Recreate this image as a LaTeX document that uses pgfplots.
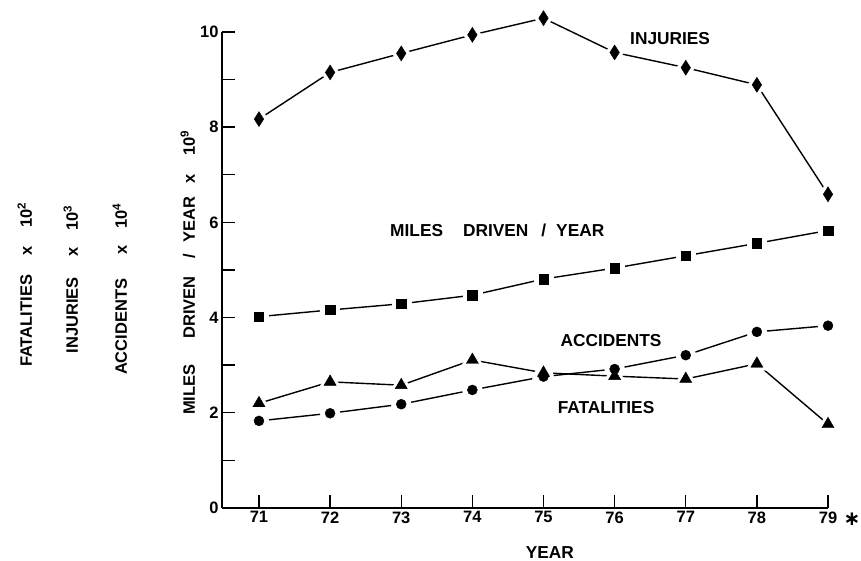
\documentclass[border=0pt]{standalone}
\usepackage{fontspec}
\setmainfont{Liberation Sans}
\newfontfamily\djv{DejaVu Sans}
\usepackage{pgfplots}
\pgfplotsset{compat=1.18}
\usepackage{pgfplotstable}

\pgfplotstableread{
yr inj miles acc fat
71 8.17 4.02 1.83 2.20
72 9.15 4.16 1.99 2.65
73 9.55 4.29 2.18 2.58
74 9.94 4.47 2.48 3.11
75 10.29 4.81 2.76 2.84
76 9.57 5.04 2.92 2.77
77 9.25 5.30 3.21 2.71
78 8.89 5.56 3.70 3.03
79 6.59 5.83 3.83 1.76
}\data

\newcommand{\fs}{\fontsize{17.3}{20}\selectfont\bfseries}
\newcommand{\fsr}{\fontsize{16.5}{20}\selectfont\bfseries}

\begin{document}
\begin{tikzpicture}
\begin{axis}[
  scale only axis, width=606pt, height=476pt,
  xmin=70.48, xmax=79, ymin=0, ymax=10,
  axis lines=left, axis line style={-, line width=1.6pt},
  xtick={71,...,79}, ytick={0,...,10},
  yticklabels={0,,2,,4,,6,,8,,10},
  tick align=inside, major tick length=13pt,
  tick style={line width=1.4pt, black},
  ticklabel style={font=\fsr},
  /pgf/number format/assume math mode=true,
  clip=false,
]
\coordinate (bl) at (rel axis cs:0,0);
% lines
\addplot[black, line width=1.4pt, no marks] table[x=yr,y=inj]{\data};
\addplot[black, line width=1.4pt, no marks] table[x=yr,y=miles]{\data};
\addplot[black, line width=1.4pt, no marks] table[x=yr,y=acc]{\data};
\addplot[black, line width=1.4pt, no marks] table[x=yr,y=fat]{\data};
% white halos that leave gaps between lines and markers
\addplot[white, only marks, mark=diamond*, mark size=14pt, mark options={draw=white, fill=white, xscale=0.85}] table[x=yr,y=inj]{\data};
\addplot[white, only marks, mark=square*, mark size=9.5pt, mark options={draw=white, fill=white}] table[x=yr,y=miles]{\data};
\addplot[white, only marks, mark=*, mark size=10pt, mark options={draw=white, fill=white}] table[x=yr,y=acc]{\data};
\addplot[white, only marks, mark=triangle*, mark size=13pt, mark options={draw=white, fill=white}] table[x=yr,y=fat]{\data};
% black marks
\addplot[black, only marks, mark=diamond*, mark size=7.5pt, mark options={draw=black, fill=black, xscale=0.85, line width=0.4pt}] table[x=yr,y=inj]{\data};
\addplot[black, only marks, mark=square*, mark size=4.7pt, mark options={draw=black, fill=black, line width=0.4pt}] table[x=yr,y=miles]{\data};
\addplot[black, only marks, mark=*, mark size=5pt, mark options={draw=black, fill=black, line width=0.4pt}] table[x=yr,y=acc]{\data};
\addplot[black, only marks, mark=triangle*, mark size=7pt, mark options={draw=black, fill=black, line width=0.4pt}] table[x=yr,y=fat]{\data};
% in-plot labels
\node[font=\fs] at (axis cs:76.78,9.87) {INJURIES};
\node[font=\fs] at (axis cs:74.35,5.84) {MILES\hspace{20pt}DRIVEN\hspace{13pt}/\hspace{10pt}YEAR};
\node[font=\fs] at (axis cs:75.95,3.51) {ACCIDENTS};
\node[font=\fs] at (axis cs:75.88,2.10) {FATALITIES};
% y labels
\node[font=\fsr, rotate=90, anchor=base west, inner sep=0pt] at ([xshift=-190pt]rel axis cs:0,0.296) {FATALITIES\hspace{19pt}x\hspace{19pt}10\textsuperscript{2}};
\node[font=\fsr, rotate=90, anchor=base west, inner sep=0pt] at ([xshift=-144pt]rel axis cs:0,0.325) {INJURIES\hspace{21pt}x\hspace{16pt}10\textsuperscript{3}};
\node[font=\fsr, rotate=90, anchor=base west, inner sep=0pt] at ([xshift=-95pt]rel axis cs:0,0.279) {ACCIDENTS\hspace{24pt}x\hspace{17pt}10\textsuperscript{4}};
\node[font=\fsr, rotate=90, anchor=base west, inner sep=0pt] at ([xshift=-27pt]rel axis cs:0,0.195) {MILES\hspace{26pt}DRIVEN\hspace{18pt}/\hspace{11pt}YEAR\hspace{13pt}x\hspace{19pt}10\textsuperscript{9}};
% x label and asterisk
\node[font=\fs] at ([yshift=-45pt]rel axis cs:0.541,0) {YEAR};
\node[font=\fontsize{20}{20}\selectfont\djv\bfseries, inner sep=0pt] at ([xshift=24pt,yshift=-11pt]axis cs:79,0) {∗};
\end{axis}
\pgfresetboundingbox
\path ([shift={(-222pt,-53pt)}]bl) rectangle ([shift={(639pt,508pt)}]bl);
\end{tikzpicture}
\end{document}
